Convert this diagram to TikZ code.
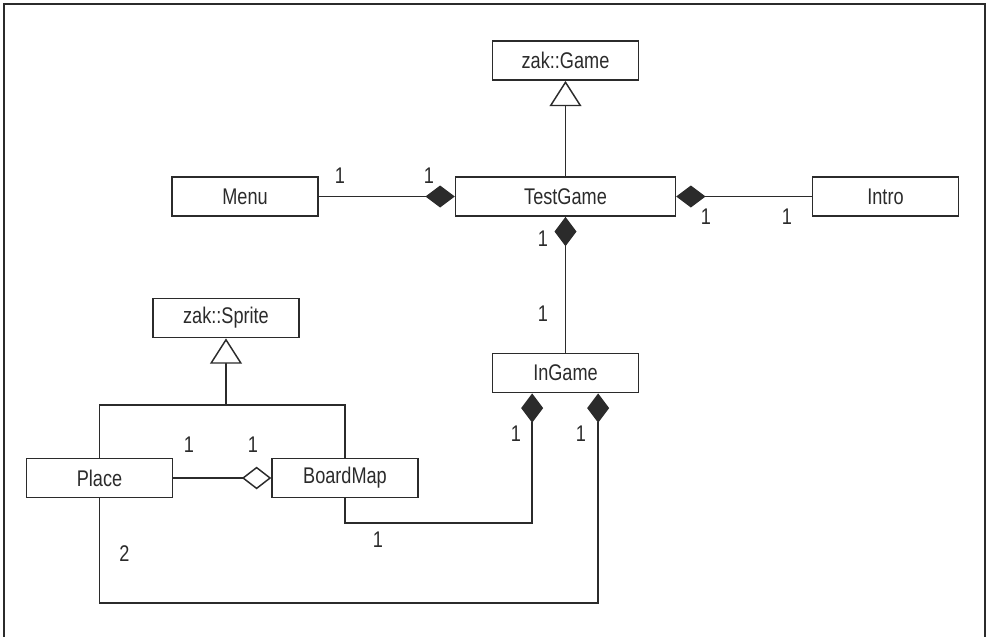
\documentclass[tikz,border=0pt]{standalone}
\usepackage{fontspec}
\setmainfont[FakeStretch=0.8]{Liberation Sans}
\usetikzlibrary{arrows.meta}
\definecolor{ink}{HTML}{2B2B2B}
\tikzset{cls/.style={draw=ink,line width=1.1pt,minimum width=109.5pt,minimum height=29.5pt,inner sep=0pt,font=\fontsize{17}{19}\selectfont,text=ink},mult/.style={inner sep=0pt,font=\fontsize{17}{19}\selectfont,text=ink},link/.style={draw=ink,line width=1.1pt},own/.style={link,{Diamond[length=22pt,width=16.5pt,fill=ink]}-},agg/.style={link,-{Diamond[open,length=22pt,width=17pt,fill=white]}},isa/.style={link,-{Triangle[open,length=19pt,width=24pt,fill=white]}}}
\begin{document}
\begin{tikzpicture}[x=0.75pt,y=-0.75pt]
\useasboundingbox (0,0) rectangle (986,636);
\draw[ink,line width=1.5pt] (4,640)--(4,4)--(985,4)--(985,640);
\node[cls] (game) at (565.5,60.5) {zak::Game};
\node[cls,minimum width=165pt] (test) at (565.5,196.5) {TestGame};
\node[cls] (menu) at (245,196.5) {Menu};
\node[cls] (intro) at (885.5,196.5) {Intro};
\node[cls] (ingame) at (565.5,373) {InGame};
\node[cls] (sprite) at (226,318) {zak::Sprite};
\node[cls] (place) at (99.5,478) {Place};
\node[cls] (board) at (345,478) {BoardMap};
\coordinate (fork) at (226,405);
\coordinate (ig1) at ([xshift=-25pt]ingame.south);\coordinate (ig2) at ([xshift=24.5pt]ingame.south);
\coordinate (bend1) at (345,523);\coordinate (bend2) at (99.5,603);
\draw[isa] (test)--(game);
\draw[own] (test)--(menu);
\draw[own] (test)--(intro);
\draw[own] (test)--(ingame);
\draw[isa] (fork)--(sprite);
\draw[link] (place)|-(fork)-|(board);
\draw[agg] (place)--(board);
\draw[own] (ig1)|-(bend1)--(board);
\draw[own] (ig2)|-(bend2)--(place);
\foreach \x/\y [count=\i] in {340/176,429/176,706/217,787/217,543/239,543/314,189/445,253/445,516/434,581/434,378/540}
  \node[mult] (one\i) at (\x,\y) {1};
\node[mult] (two) at (124.5,554) {2};
\end{tikzpicture}
\end{document}
